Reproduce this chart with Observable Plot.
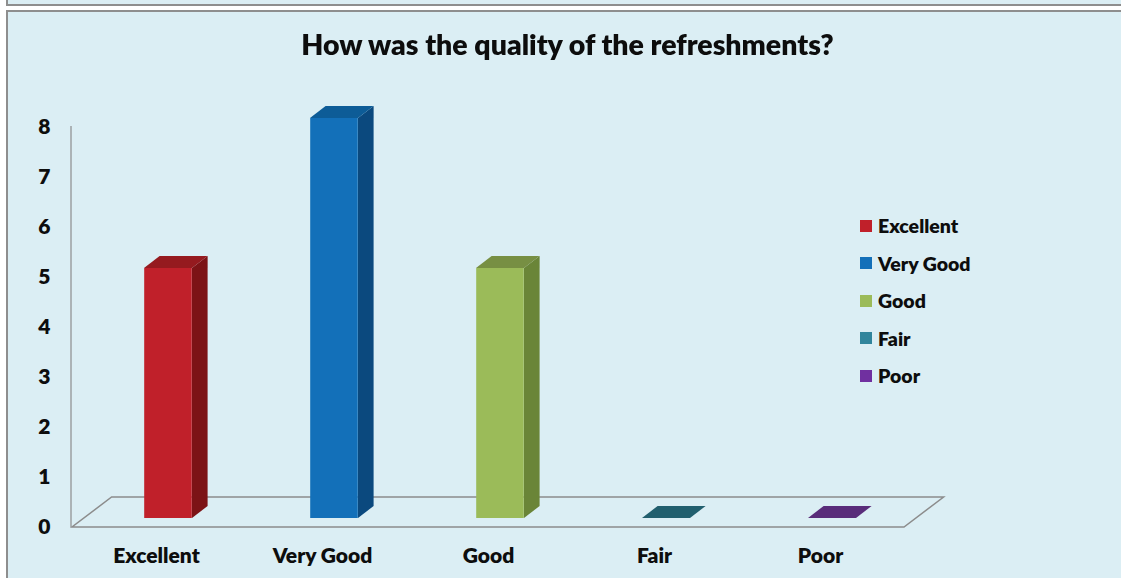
<!DOCTYPE html>
<html><head><meta charset="utf-8">
<script src="https://cdn.jsdelivr.net/npm/d3@7"></script>
<script src="https://cdn.jsdelivr.net/npm/@observablehq/plot@0.6"></script>
<style>
html,body{margin:0;padding:0;width:1121px;height:578px;overflow:hidden;background:#fff;font-family:Lato, sans-serif;}
.box{position:absolute;background:#DBEEF4;border:2px solid #8E8E8E;box-sizing:border-box;}
#chart{position:absolute;left:0;top:0;}
#title{position:absolute;left:0;width:1135px;top:27px;text-align:center;font-weight:800;font-size:28.5px;color:#0d0d0d;font-family:Lato, sans-serif;}
#legend{position:absolute;left:860px;top:207px;}
.item{height:37.5px;display:flex;align-items:center;font-weight:800;font-size:19.5px;color:#0d0d0d;}
.sw{width:12px;height:12px;margin-right:6px;}
</style></head>
<body>
<div class="box" style="left:6px;top:-12px;width:1200px;height:18px;"></div>
<div class="box" style="left:6px;top:10px;width:1200px;height:700px;"></div>
<div id="chart"></div>
<div id="title"></div>
<div id="legend"></div>
<script>
const titleText = "How was the quality of the refreshments?";
const categories = ["Excellent", "Very Good", "Good", "Fair", "Poor"];
const values = [5, 8, 5, 0, 0];
const yTicks = [0, 1, 2, 3, 4, 5, 6, 7, 8];
const frontColors = ["#C0202A", "#1370B9", "#9BBB59", "#2E8095", "#6E30A0"];
const sideColors = ["#7C1316", "#0B497E", "#6A8538", "#1E5563", "#4A1F6C"];
const topColors = ["#951A1F", "#0D5C97", "#778F43", "#215F6E", "#592C7A"];
const legendColors = ["#C0202A", "#1370B9", "#9BBB59", "#31859C", "#7030A0"];

const data = categories.map((c, i) => ({category: c, value: values[i], i}));

const W = 1121, H = 578;
const mL = 72, mR = 217, mT = 127, mB = 51;
const FLOOR_DX = 39.6, FLOOR_DY = 30;
const BAR_W = 48, BAR_OX = 15.6, BAR_OY = 12;
const SHIFT_X = 12, SHIFT_Y = -9;

function bandwidthOf(x, dims) {
  if (typeof x.bandwidth === "function") return x.bandwidth();
  if (typeof x.bandwidth === "number") return x.bandwidth;
  return (dims.width - dims.marginLeft - dims.marginRight) / categories.length;
}
const inset = (((W - mL - mR) / categories.length) - BAR_W) / 2;

const floorMark = (index, scales, values_, dims) => {
  const {y} = scales;
  const r0 = dims.marginLeft, r1 = dims.width - dims.marginRight;
  const y0 = y(0);
  const g = d3.create("svg:g");
  g.append("line").attr("x1", r0 - 1).attr("x2", r0 - 1)
    .attr("y1", y(d3.max(yTicks)) - 1).attr("y2", y0)
    .attr("stroke", "#8C8C8C").attr("stroke-width", 1.2);
  g.append("polygon")
    .attr("points", [[r0, y0], [r1, y0], [r1 + FLOOR_DX, y0 - FLOOR_DY], [r0 + FLOOR_DX, y0 - FLOOR_DY]].map(p => p.join(",")).join(" "))
    .attr("fill", "none").attr("stroke", "#8C8C8C").attr("stroke-width", 1.5);
  return g.node();
};

const facesMark = (index, scales, values_, dims) => {
  const {x, y} = scales;
  const bw = bandwidthOf(x, dims);
  const ins = (bw - BAR_W) / 2;
  const g = d3.create("svg:g");
  for (const d of data) {
    const x0 = x(d.category) + ins + SHIFT_X, x1 = x0 + BAR_W;
    const yb = y(0) + SHIFT_Y, yv = y(d.value) + SHIFT_Y;
    if (d.value > 0) {
      g.append("polygon")
        .attr("points", [[x1, yb], [x1, yv], [x1 + BAR_OX, yv - BAR_OY], [x1 + BAR_OX, yb - BAR_OY]].map(p => p.join(",")).join(" "))
        .attr("fill", sideColors[d.i]);
    }
    g.append("polygon")
      .attr("points", [[x0, yv], [x1, yv], [x1 + BAR_OX, yv - BAR_OY], [x0 + BAR_OX, yv - BAR_OY]].map(p => p.join(",")).join(" "))
      .attr("fill", topColors[d.i]);
  }
  return g.node();
};

const plot = Plot.plot({
  width: W, height: H,
  marginLeft: mL, marginRight: mR, marginTop: mT, marginBottom: mB,
  style: {background: "transparent", fontFamily: "Lato, sans-serif", fontSize: "21px", fontWeight: "800", color: "#0d0d0d", overflow: "visible"},
  x: {type: "band", domain: categories, padding: 0, tickSize: 0, tickPadding: 21, label: null},
  y: {domain: [0, 8], ticks: yTicks, tickSize: 0, tickPadding: 22, label: null, tickFormat: d => String(d)},
  color: {domain: categories, range: frontColors},
  marks: [
    floorMark,
    Plot.barY(data, {x: "category", y: "value", fill: "category", insetLeft: inset, insetRight: inset, dx: SHIFT_X, dy: SHIFT_Y}),
    facesMark
  ]
});
document.getElementById("chart").appendChild(plot);
document.getElementById("title").textContent = titleText;

const legend = d3.select("#legend");
categories.forEach((c, i) => {
  const it = legend.append("div").attr("class", "item");
  it.append("div").attr("class", "sw").style("background", legendColors[i]);
  it.append("span").text(c);
});
</script>
</body></html>
